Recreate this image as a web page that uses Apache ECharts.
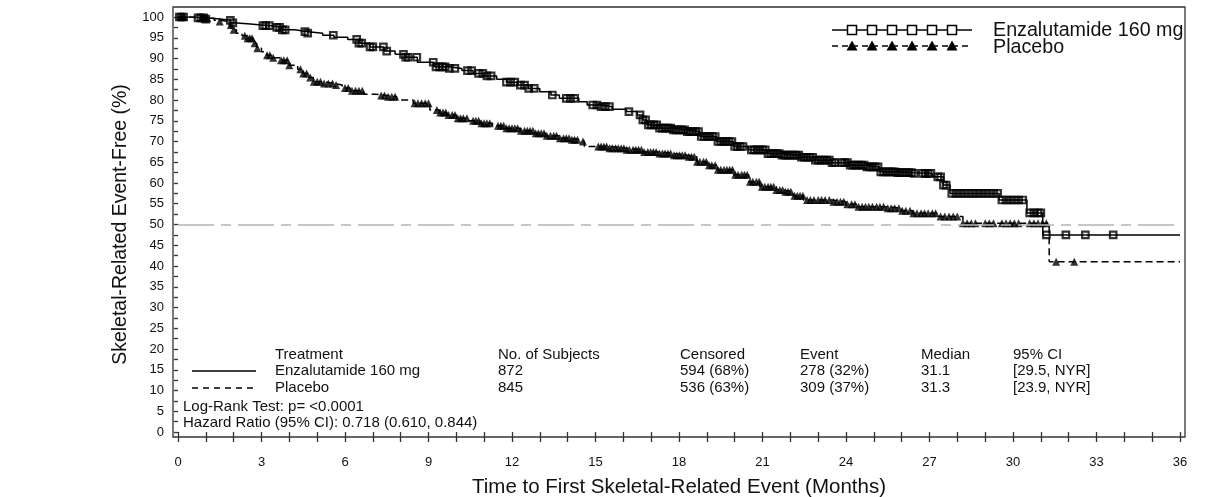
<!DOCTYPE html>
<html><head><meta charset="utf-8">
<script src="https://cdn.jsdelivr.net/npm/echarts@6/dist/echarts.min.js"></script>
<style>html,body{margin:0;padding:0;background:#fff}#c{width:1208px;height:497px}</style>
</head><body><div id="c"></div>
<script>
// ---- Data ----
// Kaplan-Meier steps: time (months) and survival (%) after each step
const enzT = [0,0.5,1.0,1.5,1.9,2.0,2.6,3.0,3.4,3.7,4.2,4.6,5.2,5.6,6.1,6.5,6.9,7.4,7.8,8.15,8.6,9.2,9.7,10.2,10.6,11.0,11.45,11.8,12.2,12.6,13.0,13.4,13.7,14.4,14.7,15.2,15.6,16.1,16.5,16.7,16.85,17.3,17.8,18.3,18.75,19.35,19.95,20.5,21.15,21.7,22.35,22.9,23.5,24.1,24.75,25.2,25.8,26.4,27.1,27.5,27.74,29.5,30.5,31.07,36];
const enzS = [100,99.8,99.5,99.2,98.6,98.3,98.1,97.9,97.5,96.9,96.5,96.1,95.6,95.1,94.6,93.7,92.8,91.8,91.0,90.3,89.1,88.0,87.6,87.1,86.4,85.8,85.0,84.3,83.6,82.8,82.0,81.2,80.4,79.6,78.8,78.4,77.8,77.2,76.4,75.2,74.0,73.2,72.8,72.4,71.2,70.0,68.8,68.0,67.1,66.7,66.2,65.5,64.9,64.3,63.9,62.7,62.5,62.3,61.5,59.5,57.5,55.9,52.8,47.5,47.5];
const placT = [0,0.5,0.9,1.3,1.5,1.87,1.93,2.1,2.3,2.47,2.7,2.83,3.0,3.19,3.4,3.67,4.0,4.3,4.5,4.7,4.86,5.2,5.58,5.9,6.18,6.66,7.1,7.5,7.86,8.45,9.05,9.4,9.65,10.0,10.4,10.85,11.3,11.8,12.3,12.77,13.2,13.7,14.1,14.45,14.6,15.5,16.1,16.7,17.3,17.8,18.28,18.64,19.0,19.35,19.95,20.5,20.9,21.5,21.75,22.1,22.47,23.5,24.0,24.4,25.5,26.0,26.4,27.26,28.2,31.3,36];
const placS = [100,99.8,99.7,99.2,98.9,98.1,96.9,96.1,95.5,94.9,93.7,92.5,91.6,90.8,90.2,89.6,88.4,87.4,86.4,85.4,84.4,84.0,83.6,82.9,82.2,81.4,81.1,80.8,80.0,79.2,77.6,77.0,76.4,75.6,75.0,74.4,73.8,73.2,72.6,72.0,71.4,70.8,70.4,70.0,68.8,68.4,68.0,67.5,67.1,66.7,66.3,65.1,64.3,63.2,62.0,60.3,59.1,58.3,57.9,56.9,55.9,55.5,54.9,54.3,53.9,53.3,52.7,51.9,50.3,41.0,41.0];
// censoring times (months)
const enzCensor = [0.05,0.12,0.2,0.72,0.82,0.92,1.0,1.88,1.97,3.05,3.15,3.28,3.55,3.65,3.75,3.85,4.56,4.66,5.58,6.42,6.5,6.6,6.9,7.0,7.38,7.5,8.1,8.18,8.27,8.58,9.17,9.27,9.4,9.5,9.6,9.75,9.95,10.4,10.55,10.8,10.95,11.1,11.25,11.8,11.95,12.1,12.3,12.45,12.6,12.8,13.45,13.95,14.1,14.25,14.9,15.05,15.2,15.35,15.5,16.2,16.6,16.7,16.8,16.9,17.0,17.1,17.2,17.3,17.4,17.5,17.6,17.7,17.8,17.9,18.0,18.1,18.2,18.3,18.4,18.5,18.6,18.7,18.8,18.9,19.0,19.1,19.2,19.3,19.4,19.5,19.6,19.7,19.8,19.9,20.0,20.1,20.2,20.3,20.6,20.7,20.8,20.9,21.0,21.1,21.2,21.3,21.4,21.5,21.6,21.7,21.8,21.9,22.0,22.1,22.2,22.3,22.4,22.5,22.6,22.7,22.8,22.9,23.0,23.1,23.2,23.3,23.4,23.5,23.6,23.85,23.95,24.05,24.15,24.25,24.35,24.45,24.55,24.65,24.75,24.85,24.95,25.05,25.15,25.25,25.35,25.45,25.55,25.65,25.75,25.85,25.95,26.05,26.15,26.25,26.35,26.45,26.75,26.85,26.95,27.05,27.3,27.4,27.5,27.6,27.8,27.95,28.1,28.25,28.4,28.55,28.7,28.85,29.0,29.15,29.3,29.45,29.6,29.75,29.9,30.05,30.2,30.35,30.6,30.75,30.9,31.0,31.2,31.9,32.6,33.6];
const placCensor = [0.1,0.2,0.85,0.95,1.05,1.5,1.9,2.0,2.4,2.5,2.58,2.66,2.75,2.85,3.2,3.3,3.42,3.7,3.8,3.92,4.0,4.4,4.5,4.62,4.75,4.88,5.0,5.12,5.25,5.4,5.55,5.68,6.0,6.12,6.25,6.38,6.5,6.62,7.3,7.42,7.55,7.68,7.8,8.5,8.62,8.75,8.88,9.0,9.3,9.42,9.52,9.62,9.72,9.85,9.95,10.05,10.15,10.25,10.38,10.6,10.7,10.8,10.9,11.0,11.1,11.2,11.5,11.6,11.7,11.8,11.9,12.0,12.1,12.2,12.32,12.45,12.55,12.65,12.75,12.85,12.95,13.05,13.15,13.25,13.38,13.5,13.6,13.72,13.85,13.95,14.05,14.15,14.25,14.35,14.55,15.1,15.2,15.3,15.4,15.5,15.6,15.72,15.82,15.92,16.02,16.12,16.22,16.35,16.45,16.55,16.65,16.75,16.88,16.98,17.08,17.18,17.3,17.4,17.5,17.6,17.7,17.82,17.92,18.02,18.12,18.22,18.35,18.45,18.55,18.65,18.75,18.88,18.98,19.08,19.18,19.3,19.4,19.5,19.62,19.72,19.82,19.92,20.02,20.12,20.25,20.35,20.45,20.55,20.65,20.78,20.88,20.98,21.08,21.2,21.3,21.4,21.5,21.62,21.72,21.82,21.92,22.02,22.15,22.25,22.35,22.45,22.6,22.72,22.85,23.0,23.12,23.25,23.4,23.55,23.68,23.8,23.92,24.05,24.2,24.32,24.45,24.58,24.7,24.82,24.95,25.1,25.22,25.35,25.5,25.62,25.75,25.9,26.02,26.15,26.3,26.42,26.55,26.7,26.82,26.95,27.1,27.22,27.4,27.55,27.7,27.85,28.0,28.2,28.35,28.5,28.65,29.0,29.15,29.3,29.6,29.75,29.9,30.05,30.2,30.6,30.75,30.9,31.05,31.2,31.55,32.2];
const referenceLevel = 50;
const seriesNames = ['Enzalutamide 160 mg', 'Placebo'];
const tableHeader = ['Treatment', 'No. of Subjects', 'Censored', 'Event', 'Median', '95% CI'];
const tableEnz = ['Enzalutamide 160 mg', '872', '594 (68%)', '278 (32%)', '31.1', '[29.5, NYR]'];
const tablePlac = ['Placebo', '845', '536 (63%)', '309 (37%)', '31.3', '[23.9, NYR]'];
const statLines = ['Log-Rank Test: p= <0.0001', 'Hazard Ratio (95% CI): 0.718 (0.610, 0.844)'];
const xTitle = 'Time to First Skeletal-Related Event (Months)';
const yTitle = 'Skeletal-Related Event-Free (%)';

// ---- helpers ----
function pairs(ts, ss) { return ts.map((t, i) => [t, ss[i]]); }
function valueAt(ts, ss, t) { let v = ss[0]; for (let i = 0; i < ts.length; i++) { if (ts[i] <= t) v = ss[i]; else break; } return v; }
const FONT = '"Liberation Sans", Arial, sans-serif';
const TXT = '#111';

const chart = echarts.init(document.getElementById('c'), null, { renderer: 'canvas' });

// ---- table & legend graphics ----
const colX = [275, 498, 680, 800, 921, 1013];
const rowY = [355, 371, 388];
const g = [];
function txt(s, x, y, size) {
  g.push({ type: 'text', x: x, y: y, z: 50, silent: true,
    style: { text: s, fill: TXT, font: size + 'px ' + FONT, textAlign: 'left', textVerticalAlign: 'middle', align: 'left', verticalAlign: 'middle' } });
}
[tableHeader, tableEnz, tablePlac].forEach((row, r) => row.forEach((s, c) => txt(s, colX[c], rowY[r], 15)));
txt(statLines[0], 183, 407, 15);
txt(statLines[1], 183, 423, 15);
g.push({ type: 'line', z: 50, silent: true, shape: { x1: 192, y1: 371, x2: 256, y2: 371 }, style: { stroke: '#000', lineWidth: 1.3 } });
g.push({ type: 'line', z: 50, silent: true, shape: { x1: 192, y1: 388, x2: 256, y2: 388 }, style: { stroke: '#000', lineWidth: 1.3, lineDash: [6, 5] } });
// frame
g.push({ type: 'rect', z: 40, silent: true, shape: { x: 173, y: 7, width: 1012, height: 430 }, style: { fill: 'none', stroke: '#333', lineWidth: 1.3 } });
// legend
g.push({ type: 'line', z: 50, silent: true, shape: { x1: 832, y1: 30, x2: 972, y2: 30 }, style: { stroke: '#000', lineWidth: 1.3 } });
g.push({ type: 'line', z: 50, silent: true, shape: { x1: 832, y1: 46, x2: 972, y2: 46 }, style: { stroke: '#000', lineWidth: 1.3, lineDash: [6, 4] } });
for (let i = 0; i < 6; i++) {
  const cx = 852 + 20 * i;
  g.push({ type: 'rect', z: 51, silent: true, shape: { x: cx - 4.5, y: 25.5, width: 9, height: 9 }, style: { fill: '#fff', stroke: '#000', lineWidth: 1.5 } });
  g.push({ type: 'polygon', z: 51, silent: true, shape: { points: [[cx, 40.5], [cx - 5.5, 50.5], [cx + 5.5, 50.5]] }, style: { fill: '#000' } });
}
txt(seriesNames[0], 993, 31, 19.7);
txt(seriesNames[1], 993, 48, 19.7);

const option = {
  animation: false,
  backgroundColor: '#fff',
  textStyle: { fontFamily: FONT, color: TXT },
  grid: { left: 178, top: 17, width: 1002, height: 415, containLabel: false, outerBoundsMode: 'none' },
  xAxis: {
    type: 'value', min: 0, max: 36, interval: 1, offset: 5,
    name: xTitle, nameLocation: 'middle', nameGap: 40,
    nameTextStyle: { fontSize: 20.5, color: TXT, fontFamily: FONT },
    axisLine: { show: false },
    axisTick: { show: true, length: 10, inside: false, lineStyle: { color: '#333', width: 1.3 } },
    axisLabel: { margin: 19, fontSize: 13, color: TXT, fontFamily: FONT, formatter: v => (v % 3 === 0 ? String(v) : ''), showMinLabel: true, showMaxLabel: true },
    splitLine: { show: false }
  },
  yAxis: {
    type: 'value', min: 0, max: 100, interval: 5, offset: 5,
    name: yTitle, nameLocation: 'middle', nameGap: 42,
    nameTextStyle: { fontSize: 19.5, color: TXT, fontFamily: FONT },
    axisLine: { show: false },
    axisTick: { show: true, length: 4, inside: false, lineStyle: { color: '#333', width: 1.3 } },
    minorTick: { show: true, splitNumber: 2, length: 4, lineStyle: { color: '#333', width: 1.3 } },
    axisLabel: { margin: 9, fontSize: 13, color: TXT, fontFamily: FONT },
    splitLine: { show: false }, minorSplitLine: { show: false }
  },
  graphic: g,
  series: [
    { type: 'line', data: [], z: 1, silent: true,
      markLine: { silent: true, symbol: 'none', label: { show: false }, animation: false,
        lineStyle: { color: '#b4b4b4', width: 1.7, type: [36, 7, 10, 7] },
        data: [{ yAxis: referenceLevel }] } },
    { name: seriesNames[0], type: 'line', step: 'end', data: pairs(enzT, enzS), showSymbol: false, symbol: 'none', z: 2,
      lineStyle: { color: '#000', width: 1.5 } },
    { name: seriesNames[1], type: 'line', step: 'end', data: pairs(placT, placS), showSymbol: false, symbol: 'none', z: 2,
      lineStyle: { color: '#000', width: 1.5, type: [7, 4] } },
    { name: seriesNames[0] + ' censored', type: 'scatter', z: 3, symbol: 'rect', symbolSize: 6.5,
      itemStyle: { color: 'rgba(255,255,255,0)', borderColor: '#000', borderWidth: 2.2 },
      data: enzCensor.map(t => [t, valueAt(enzT, enzS, t)]) },
    { name: seriesNames[1] + ' censored', type: 'scatter', z: 3, symbol: 'triangle', symbolSize: 8,
      itemStyle: { color: '#000' },
      data: placCensor.map(t => [t, valueAt(placT, placS, t)]) }
  ]
};
chart.setOption(option);
</script></body></html>
